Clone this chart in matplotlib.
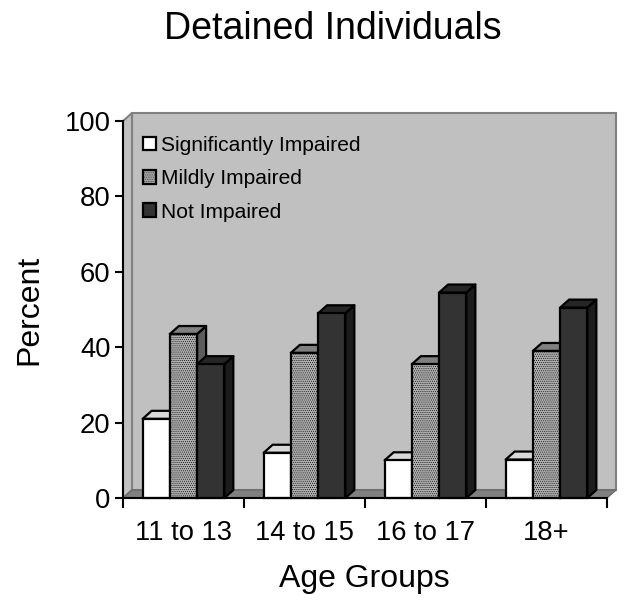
import matplotlib
matplotlib.use("Agg")
import matplotlib.pyplot as plt
from matplotlib.patches import Polygon, Patch, Rectangle

categories = ["11 to 13", "14 to 15", "16 to 17", "18+"]
series_names = ["Significantly Impaired", "Mildly Impaired", "Not Impaired"]
significantly = [21, 12, 10, 10.2]
mildly = [43.5, 38.5, 35.5, 39]
not_impaired = [35.5, 49, 54.5, 50.5]
yticks = [0, 20, 40, 60, 80, 100]

W, H = 624, 604
plt.rcParams["font.family"] = ["Liberation Sans", "DejaVu Sans"]
plt.rcParams["hatch.linewidth"] = 0.4
plt.rcParams["hatch.color"] = "#8c8c8c"
fig = plt.figure(figsize=(W / 100, H / 100), dpi=100)
L, R, T, B = 123, 607, 121, 498
ax = fig.add_axes([L / W, 1 - B / H, (R - L) / W, (B - T) / H])
n = len(categories)
ax.set_xlim(0, n)
ax.set_ylim(0, 100)

# depth of the pseudo-3D look, in data units
dx = 9 / ((R - L) / n)
dy = 8 / ((B - T) / 100)
lw = 1.6

# back wall, side wall, floor
ax.add_patch(Polygon([(dx, dy), (n + dx, dy), (n + dx, 100 + dy), (dx, 100 + dy)],
                     fc="#c0c0c0", ec="#808080", lw=1.5, clip_on=False, zorder=1))
ax.add_patch(Polygon([(0, 0), (dx, dy), (dx, 100 + dy), (0, 100)],
                     fc="#c0c0c0", ec="#808080", lw=1.5, clip_on=False, zorder=1))
ax.add_patch(Polygon([(0, 0), (n, 0), (n + dx, dy), (dx, dy)],
                     fc="#808080", ec="#6a6a6a", lw=1, clip_on=False, zorder=1))

styles = [
    dict(front="#ffffff", top="#d8d8d8", side="#a0a0a0", hatch=None),
    dict(front="#b0b0b0", top="#808080", side="#5c5c5c", hatch="........"),
    dict(front="#333333", top="#262626", side="#1c1c1c", hatch=None),
]
bw = 0.225
start = (1 - 3 * bw) / 2
z = 3
for i in range(n):
    for s, vals in enumerate([significantly, mildly, not_impaired]):
        v = vals[i]
        st = styles[s]
        x0 = i + start + s * bw
        x1 = x0 + bw
        ax.add_patch(Polygon([(x1, 0), (x1 + dx, dy), (x1 + dx, v + dy), (x1, v)],
                             fc=st["side"], ec="black", lw=lw, clip_on=False, zorder=z, joinstyle="round"))
        ax.add_patch(Polygon([(x0, v), (x1, v), (x1 + dx, v + dy), (x0 + dx, v + dy)],
                             fc=st["top"], ec="black", lw=lw, clip_on=False, zorder=z, joinstyle="round"))
        ax.add_patch(Rectangle((x0, 0), bw, v, fc=st["front"], ec="black", lw=lw,
                               hatch=st["hatch"], clip_on=False, zorder=z + 0.5))
        z += 1

for side in ("top", "right"):
    ax.spines[side].set_visible(False)
for side in ("left", "bottom"):
    ax.spines[side].set_linewidth(1.5)
    ax.spines[side].set_zorder(200)
ax.set_facecolor("none")

ax.set_yticks(yticks)
ax.tick_params(axis="y", labelsize=19.7, length=6, width=1.5, pad=3)
ax.set_xticks(range(n + 1))
ax.set_xticklabels([])
ax.tick_params(axis="x", length=7, width=1.5)
for i, c in enumerate(categories):
    ax.text(i + 0.5, -5.8, c, ha="center", va="top", fontsize=19.7)

fig.text(333 / W, 1 - 29 / H, "Detained Individuals", ha="center", va="center", fontsize=27)
fig.text(29 / W, 1 - 310 / H, "Percent", ha="center", va="center", rotation=90, fontsize=23)
fig.text(364 / W, 1 - 579 / H, "Age Groups", ha="center", va="center", fontsize=23)

handles = [
    Patch(fc=styles[0]["front"], ec="black", lw=1.6),
    Patch(fc=styles[1]["front"], ec="black", lw=1.6, hatch=styles[1]["hatch"]),
    Patch(fc=styles[2]["front"], ec="black", lw=1.6),
]
leg = ax.legend(handles, series_names, loc="upper left", frameon=False, fontsize=15.1,
                bbox_to_anchor=(20 / (R - L), 1 - 15 / (B - T)), borderaxespad=0, borderpad=0,
                handlelength=0.62, handleheight=0.62, handletextpad=0.22, labelspacing=0.68)
leg.set_zorder(300)

fig.savefig("out.png", dpi=100)
